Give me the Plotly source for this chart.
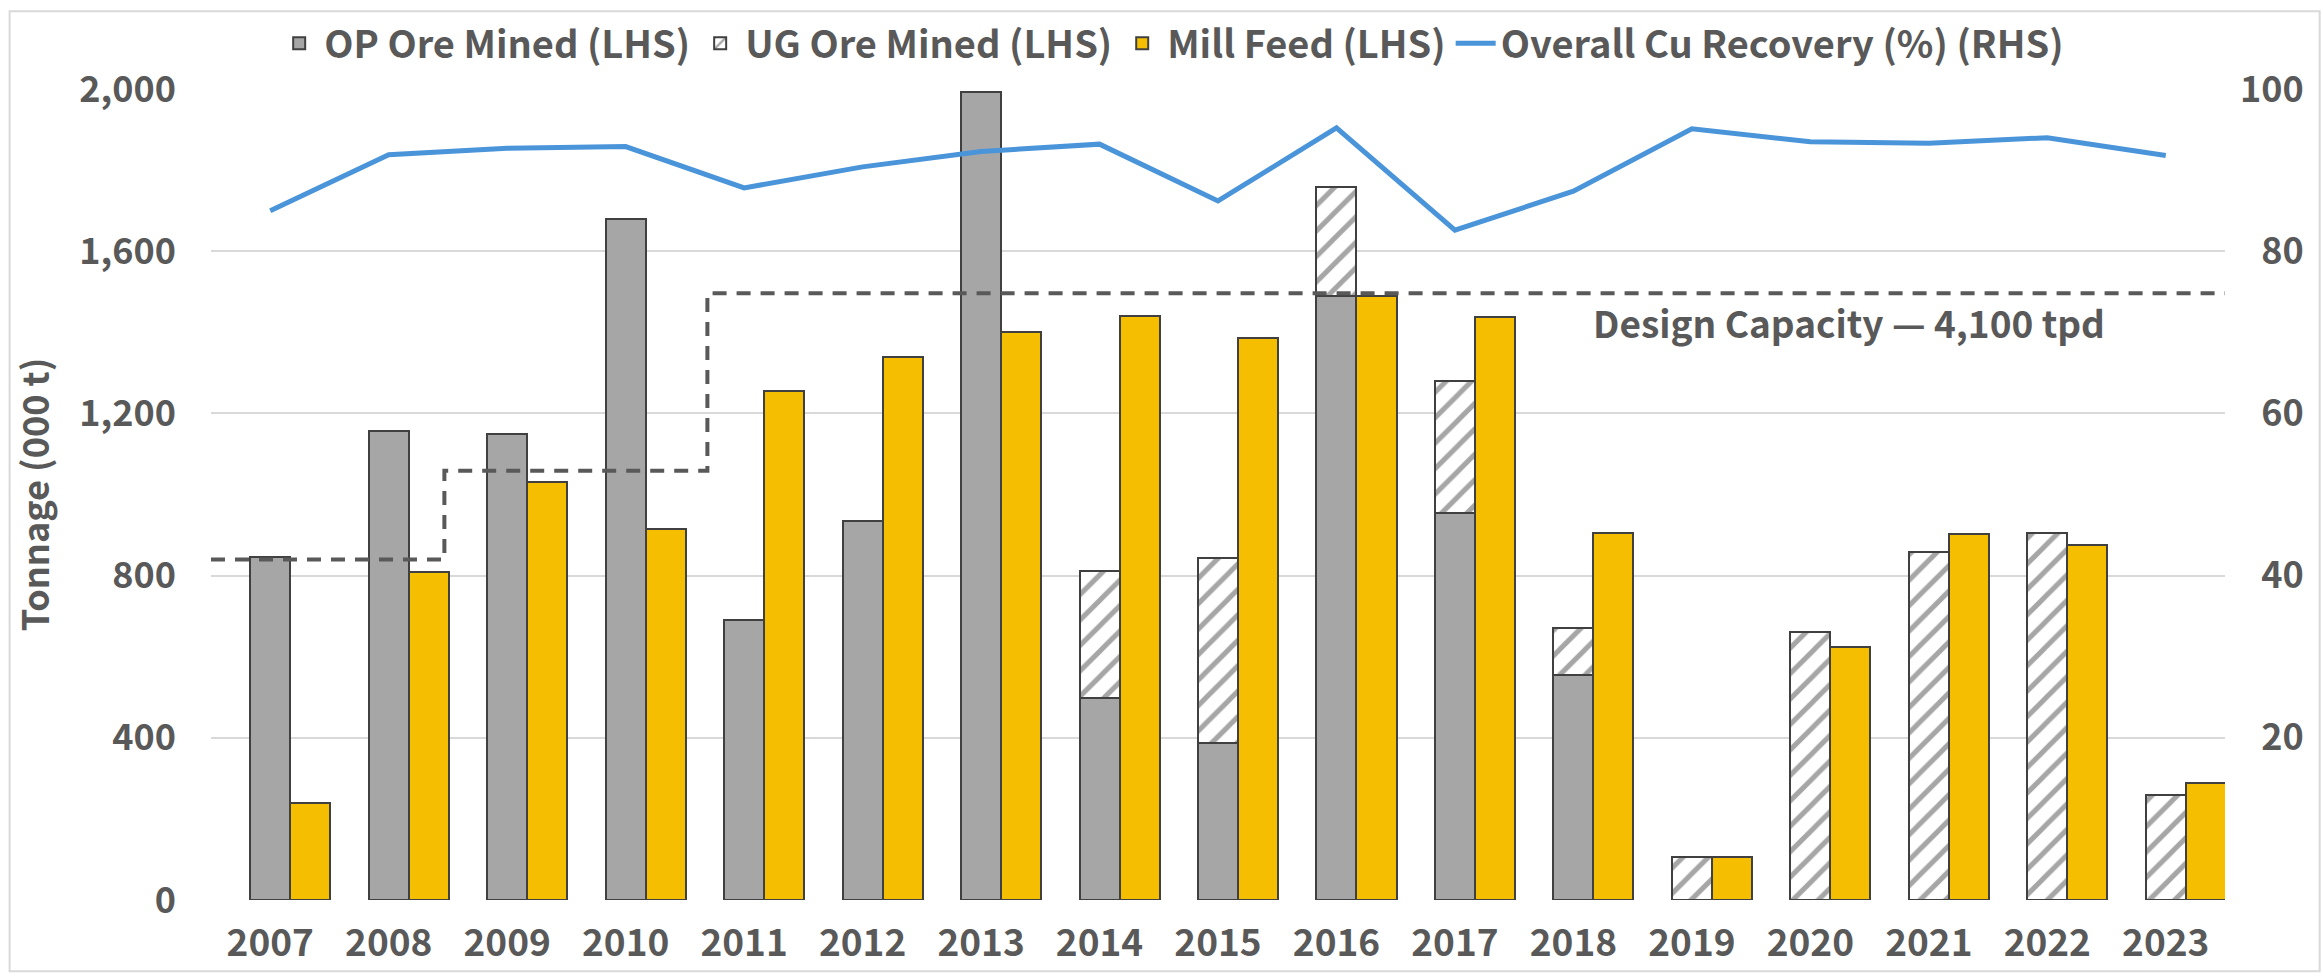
import plotly.graph_objects as go

# ---- data ----
years = list(range(2007, 2024))
op_ore = [845, 1157, 1150, 1680, 690, 935, 1992, 499, 386, 1489, 955, 555, 0, 0, 0, 0, 0]
ug_ore = [0, 0, 0, 0, 0, 0, 0, 313, 457, 269, 325, 115, 105, 660, 858, 905, 258]
mill_feed = [240, 808, 1030, 915, 1255, 1340, 1400, 1440, 1385, 1489, 1437, 905, 105, 625, 903, 875, 288]
recovery = [85.0, 91.9, 92.7, 92.9, 87.8, 90.4, 92.3, 93.2, 86.2, 95.2, 82.6, 87.4, 95.1, 93.5, 93.3, 94.0, 91.8]

# design capacity steps (tpd) and the years where each applies
cap_tpd = [2300, 2900, 4100]
cap_start = [2006.5, 2008.47, 2010.69]
cap_end = [2008.47, 2010.69, 2023.5]

left_ticks = [0, 400, 800, 1200, 1600, 2000]
right_ticks = [20, 40, 60, 80, 100]

TXT = "#595959"
FONT = "Noto Sans CJK JP"
OUTLINE = "#404040"
BW = 0.338

cap_x, cap_y = [], []
for t, s, e in zip(cap_tpd, cap_start, cap_end):
    v = t * 365 / 1000
    cap_x += [s, e]
    cap_y += [v, v]

fig = go.Figure()
fig.add_trace(go.Bar(
    x=years, y=op_ore, name="OP Ore Mined (LHS)", width=BW, offset=-BW / 2,
    marker=dict(color="#A6A6A6", line=dict(color=OUTLINE, width=2)),
))
fig.add_trace(go.Bar(
    x=years, y=ug_ore, base=op_ore, name="UG Ore Mined (LHS)", width=BW, offset=-BW / 2,
    marker=dict(color="white", line=dict(color=OUTLINE, width=2),
                pattern=dict(shape="/", fgcolor="#A6A6A6", bgcolor="white",
                             size=18, solidity=0.28, fillmode="replace")),
))
fig.add_trace(go.Bar(
    x=years, y=mill_feed, name="Mill Feed (LHS)", width=BW, offset=BW / 2,
    marker=dict(color="#F5BF00", line=dict(color=OUTLINE, width=2)),
))
fig.add_trace(go.Scatter(
    x=cap_x, y=cap_y, mode="lines", showlegend=False, hoverinfo="skip",
    line=dict(color="#595959", width=4, dash="14px,10px"),
))
fig.add_trace(go.Scatter(
    x=years, y=recovery, name="Overall Cu Recovery (%) (RHS)", yaxis="y2",
    mode="lines", line=dict(color="#4A94DA", width=5),
))

fig.add_annotation(
    x=2020.33, y=1425, xref="x", yref="y", showarrow=False,
    text="Design Capacity — 4,100 tpd",
    font=dict(family=FONT, size=37, color=TXT, weight="bold"),
)

# chart-area border
fig.add_shape(type="rect", xref="paper", yref="paper",
              x0=-0.1, x1=1.047, y0=-0.088, y1=1.096,
              line=dict(color="#D9D9D9", width=2), layer="below")

fig.update_layout(
    width=2323, height=979,
    margin=dict(l=211, r=98, t=84, b=77),
    barmode="overlay",
    plot_bgcolor="white", paper_bgcolor="white",
    font=dict(family=FONT, color=TXT, size=34),
    legend=dict(orientation="h", x=0.477, xanchor="center", y=1.056, yanchor="middle",
                font=dict(family=FONT, size=38, color=TXT, weight="bold"), itemwidth=40,
                traceorder="normal", bgcolor="rgba(0,0,0,0)"),
    xaxis=dict(range=[2006.5, 2023.5], tickvals=years, showgrid=False, zeroline=False,
               showline=False, ticks="", ticklabelstandoff=18,
               tickfont=dict(family=FONT, size=37, color=TXT, weight="bold")),
    yaxis=dict(range=[0, 2000], tickvals=left_ticks, tickformat=",d",
               showgrid=True, gridcolor="#D9D9D9", gridwidth=2, zeroline=False,
               showline=False, ticks="", ticklabelstandoff=34,
               title=dict(text="Tonnage (000 t)", standoff=18,
                          font=dict(family=FONT, size=36, color=TXT, weight="bold")),
               tickfont=dict(family=FONT, size=36, color=TXT, weight="bold")),
    yaxis2=dict(range=[0, 100], overlaying="y", side="right", tickvals=right_ticks,
                ticktext=[("\u2007" if v < 100 else "") + str(v) for v in right_ticks],
                showgrid=False, zeroline=False, showline=False, ticks="",
                ticklabelstandoff=14,
                tickfont=dict(family=FONT, size=36, color=TXT, weight="bold")),
    bargap=0,
)

fig.write_html("out.html", config={"displayModeBar": False},
               post_script="document.body.style.margin='0';")
